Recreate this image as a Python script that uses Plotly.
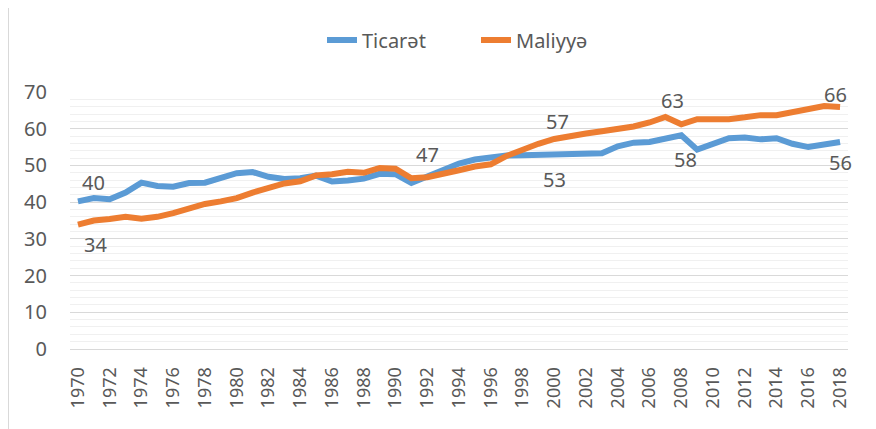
import plotly.graph_objects as go

years = list(range(1970, 2019))

ticaret = [40.2, 41.1, 40.8, 42.6, 45.3, 44.4, 44.2, 45.2, 45.3, 46.6,
           47.9, 48.2, 46.9, 46.3, 46.5, 47.2, 45.6, 45.9, 46.4, 47.7,
           47.6, 45.2, 46.9, 48.9, 50.5, 51.6, 52.2, 52.7, 52.8, 52.9,
           53.4, 53.3, 53.3, 53.3, 55.2, 56.2, 56.4, 57.2, 58.2, 54.3,
           55.7, 57.4, 57.6, 57.1, 57.4, 55.9, 55.0, 55.6, 56.4]

maliyye = [33.9, 35.0, 35.4, 36.0, 35.5, 36.0, 37.0, 38.2, 39.5, 40.2,
           41.1, 42.6, 44.0, 45.1, 45.7, 47.3, 47.6, 48.3, 48.0, 49.3,
           49.1, 46.5, 46.8, 47.6, 48.7, 49.7, 50.3, 52.6, 54.4, 55.9,
           57.2, 58.1, 58.7, 59.3, 59.9, 60.6, 61.7, 63.2, 61.2, 62.6,
           62.6, 62.6, 63.1, 63.7, 63.7, 64.6, 65.4, 66.2, 65.9]

series_names = ["Ticarət", "Maliyyə"]
x_tick_labels = [str(y) for y in range(1970, 2019, 2)]

# years that carry a data label, per series
label_years_ticaret = [1970, 2000, 2008, 2018]
label_years_maliyye = [1970, 1992, 2000, 2007, 2018]

# label placement style (xshift, yshift in px)
label_style_ticaret = [(16, 19), (0, -27), (4, -24), (0, -21)]
label_style_maliyye = [(18, -20), (0, 23), (3, 17), (7, 16), (-5, 13)]

BLUE = "#5B9BD5"
ORANGE = "#ED7D31"
TXT = "#595959"
FONT = "Noto Sans"

fig = go.Figure()
fig.add_trace(go.Scatter(x=years, y=ticaret, mode="lines", name=series_names[0],
                         line=dict(color=BLUE, width=6)))
fig.add_trace(go.Scatter(x=years, y=maliyye, mode="lines", name=series_names[1],
                         line=dict(color=ORANGE, width=6)))

annotations = []
for yrs, vals, style in [(label_years_ticaret, ticaret, label_style_ticaret),
                         (label_years_maliyye, maliyye, label_style_maliyye)]:
    for yr, (dx, dy) in zip(yrs, style):
        v = vals[years.index(yr)]
        annotations.append(dict(x=yr, y=v, xref="x", yref="y", text=f"{round(v)}",
                                showarrow=False, xshift=dx, yshift=dy,
                                xanchor="center", yanchor="middle",
                                font=dict(family=FONT, size=20, color=TXT)))

# page offset (body margin) and desired plot area in page pixels
OFF = 8
PL, PT, PR, PB = 70, 92, 848, 349
W, H = 868, 421
L, T = PL - OFF, PT - OFF
R, B = W - (PR - OFF), H - (PB - OFF)
pw, ph = PR - PL, PB - PT

def px2paper_x(px):
    return (px - PL) / pw

def px2paper_y(py):
    return (PB - py) / ph

shapes = [
    dict(type="line", xref="paper", yref="paper", x0=px2paper_x(8.5), x1=px2paper_x(8.5),
         y0=-1, y1=2, line=dict(color="#D9D9D9", width=1), layer="below"),
    dict(type="line", xref="paper", yref="paper", x0=px2paper_x(875.5), x1=px2paper_x(875.5),
         y0=-1, y1=2, line=dict(color="#D9D9D9", width=1), layer="below"),
]

fig.update_layout(
    width=W, height=H,
    margin=dict(l=L, r=R, t=T, b=B, autoexpand=False),
    paper_bgcolor="white", plot_bgcolor="white",
    font=dict(family=FONT, size=20, color=TXT),
    showlegend=True,
    legend=dict(orientation="h", x=px2paper_x(322), xanchor="left",
                y=px2paper_y(40), yanchor="middle",
                font=dict(family=FONT, size=20, color=TXT),
                bgcolor="rgba(0,0,0,0)", itemwidth=30,
                entrywidth=109, entrywidthmode="pixels"),
    annotations=annotations,
    shapes=shapes,
)

fig.update_xaxes(range=[1969.5, 2018.5], tickmode="array",
                 tickvals=list(range(1970, 2019, 2)), ticktext=x_tick_labels,
                 tickangle=-90, showgrid=False, zeroline=False,
                 showline=True, linecolor="#D9D9D9", linewidth=1,
                 ticks="", ticklabelstandoff=10, automargin=False,
                 tickfont=dict(family=FONT, size=18, color=TXT))
fig.update_yaxes(range=[0, 70], dtick=10, tick0=0, showgrid=True,
                 gridcolor="#D9D9D9", gridwidth=1, zeroline=False,
                 showline=False, ticks="", ticklabelstandoff=22, automargin=False,
                 minor=dict(dtick=2, showgrid=True, gridcolor="#F0F0F0", gridwidth=1),
                 tickfont=dict(family=FONT, size=20, color=TXT))

fig.write_html("out.html")
